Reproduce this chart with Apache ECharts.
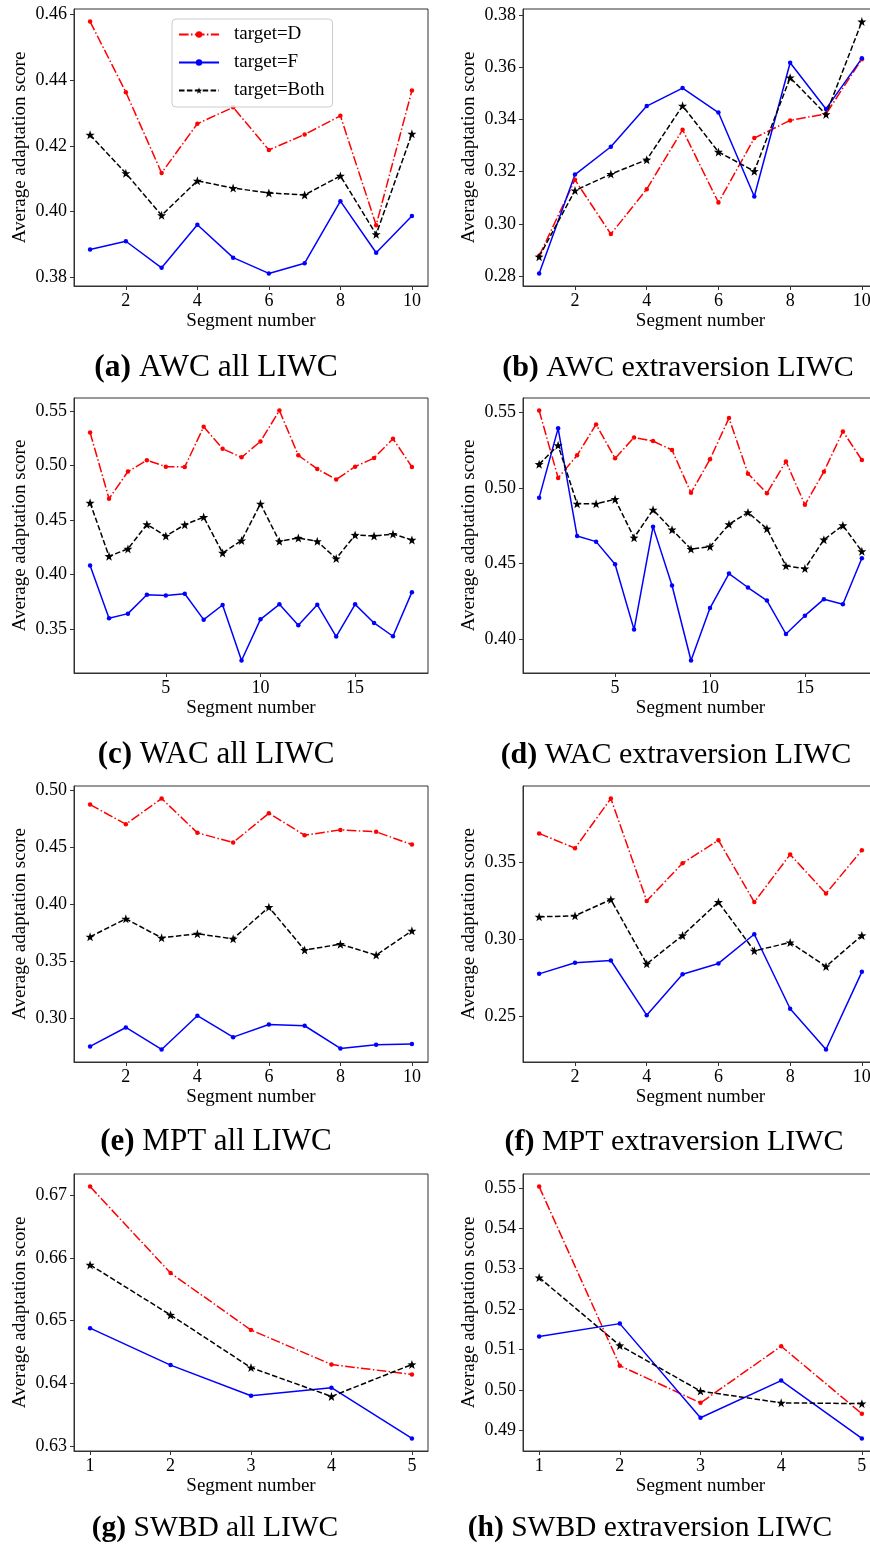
<!DOCTYPE html>
<html>
<head>
<meta charset="utf-8">
<title>Average adaptation score by segment</title>
<script src="https://cdn.jsdelivr.net/npm/echarts@6/dist/echarts.min.js"></script>
<style>
  html, body { margin: 0; padding: 0; background: #fff; overflow: hidden; }
  #chart { width: 870px; height: 1553px; }
</style>
</head>
<body>
<div id="chart"></div>
<script>
// series names (legend)
var seriesNames = ['target=D', 'target=F', 'target=Both'];

// segment numbers
var seg10 = [1, 2, 3, 4, 5, 6, 7, 8, 9, 10];
var seg18 = [1, 2, 3, 4, 5, 6, 7, 8, 9, 10, 11, 12, 13, 14, 15, 16, 17, 18];
var seg5 = [1, 2, 3, 4, 5];

// x tick labels
var xTicks10 = [2, 4, 6, 8, 10];
var xTicks18 = [5, 10, 15];
var xTicks5 = [1, 2, 3, 4, 5];

// (a) AWC all LIWC
var awcAllD = [0.4579, 0.4364, 0.4118, 0.4268, 0.4318, 0.4188, 0.4235, 0.4292, 0.3959, 0.4369];
var awcAllF = [0.3885, 0.3910, 0.3829, 0.3960, 0.3860, 0.3812, 0.3843, 0.4032, 0.3875, 0.3987];
var awcAllBoth = [0.4234, 0.4117, 0.3989, 0.4094, 0.4072, 0.4057, 0.4051, 0.4109, 0.3931, 0.4237];
var awcAllTicks = [0.38, 0.40, 0.42, 0.44, 0.46];

// (b) AWC extraversion LIWC
var awcExtD = [0.2877, 0.3169, 0.2961, 0.3133, 0.3361, 0.3082, 0.3329, 0.3397, 0.3422, 0.3632];
var awcExtF = [0.2810, 0.3189, 0.3296, 0.3452, 0.3521, 0.3427, 0.3105, 0.3618, 0.3441, 0.3635];
var awcExtBoth = [0.2874, 0.3128, 0.3191, 0.3246, 0.3453, 0.3276, 0.3202, 0.3561, 0.3420, 0.3776];
var awcExtTicks = [0.28, 0.30, 0.32, 0.34, 0.36, 0.38];

// (c) WAC all LIWC
var wacAllD = [0.5302, 0.4695, 0.4944, 0.5047, 0.4989, 0.4986, 0.5354, 0.5153, 0.5074, 0.5220,
               0.5503, 0.5093, 0.4968, 0.4871, 0.4989, 0.5068, 0.5245, 0.4986];
var wacAllF = [0.4084, 0.3600, 0.3643, 0.3816, 0.3810, 0.3825, 0.3588, 0.3722, 0.3214, 0.3591,
               0.3728, 0.3536, 0.3725, 0.3433, 0.3728, 0.3558, 0.3436, 0.3840];
var wacAllBoth = [0.4658, 0.4169, 0.4236, 0.4460, 0.4354, 0.4457, 0.4527, 0.4199, 0.4312, 0.4649,
                  0.4305, 0.4336, 0.4305, 0.4147, 0.4363, 0.4354, 0.4372, 0.4318];
var wacAllTicks = [0.35, 0.40, 0.45, 0.50, 0.55];

// (d) WAC extraversion LIWC
var wacExtD = [0.5511, 0.5066, 0.5215, 0.5419, 0.5195, 0.5333, 0.5309, 0.5250, 0.4967, 0.5189,
               0.5461, 0.5094, 0.4965, 0.5175, 0.4888, 0.5107, 0.5373, 0.5184];
var wacExtF = [0.4934, 0.5393, 0.4682, 0.4645, 0.4496, 0.4064, 0.4744, 0.4355, 0.3860, 0.4206,
               0.4434, 0.4342, 0.4256, 0.4035, 0.4156, 0.4265, 0.4232, 0.4535];
var wacExtBoth = [0.5156, 0.5281, 0.4895, 0.4895, 0.4925, 0.4671, 0.4855, 0.4724, 0.4596, 0.4612,
                  0.4759, 0.4838, 0.4730, 0.4485, 0.4467, 0.4658, 0.4752, 0.4581];
var wacExtTicks = [0.40, 0.45, 0.50, 0.55];

// (e) MPT all LIWC
var mptAllD = [0.4871, 0.4699, 0.4924, 0.4623, 0.4538, 0.4795, 0.4602, 0.4649, 0.4632, 0.4520];
var mptAllF = [0.2749, 0.2915, 0.2722, 0.3018, 0.2830, 0.2941, 0.2930, 0.2731, 0.2763, 0.2769];
var mptAllBoth = [0.3711, 0.3868, 0.3702, 0.3737, 0.3693, 0.3971, 0.3594, 0.3646, 0.3550, 0.3763];
var mptAllTicks = [0.30, 0.35, 0.40, 0.45, 0.50];

// (f) MPT extraversion LIWC
var mptExtD = [0.3687, 0.3591, 0.3914, 0.3248, 0.3493, 0.3643, 0.3240, 0.3550, 0.3296, 0.3578];
var mptExtF = [0.2773, 0.2845, 0.2860, 0.2504, 0.2771, 0.2841, 0.3031, 0.2546, 0.2281, 0.2786];
var mptExtBoth = [0.3144, 0.3151, 0.3257, 0.2838, 0.3023, 0.3240, 0.2923, 0.2977, 0.2821, 0.3023];
var mptExtTicks = [0.25, 0.30, 0.35];

// (g) SWBD all LIWC
var swbdAllD = [0.6714, 0.6576, 0.6485, 0.6430, 0.6414];
var swbdAllF = [0.6488, 0.6429, 0.6380, 0.6393, 0.6312];
var swbdAllBoth = [0.6589, 0.6509, 0.6425, 0.6379, 0.6430];
var swbdAllTicks = [0.63, 0.64, 0.65, 0.66, 0.67];

// (h) SWBD extraversion LIWC
var swbdExtD = [0.5503, 0.5060, 0.4968, 0.5108, 0.4941];
var swbdExtF = [0.5132, 0.5164, 0.4931, 0.5023, 0.4880];
var swbdExtBoth = [0.5278, 0.5110, 0.4997, 0.4968, 0.4966];
var swbdExtTicks = [0.49, 0.50, 0.51, 0.52, 0.53, 0.54, 0.55];

var panels = [
  { tag: '(a)', caption: 'AWC all LIWC', seg: seg10, xTicks: xTicks10, yTicks: awcAllTicks, d: awcAllD, f: awcAllF, both: awcAllBoth },
  { tag: '(b)', caption: 'AWC extraversion LIWC', seg: seg10, xTicks: xTicks10, yTicks: awcExtTicks, d: awcExtD, f: awcExtF, both: awcExtBoth },
  { tag: '(c)', caption: 'WAC all LIWC', seg: seg18, xTicks: xTicks18, yTicks: wacAllTicks, d: wacAllD, f: wacAllF, both: wacAllBoth },
  { tag: '(d)', caption: 'WAC extraversion LIWC', seg: seg18, xTicks: xTicks18, yTicks: wacExtTicks, d: wacExtD, f: wacExtF, both: wacExtBoth },
  { tag: '(e)', caption: 'MPT all LIWC', seg: seg10, xTicks: xTicks10, yTicks: mptAllTicks, d: mptAllD, f: mptAllF, both: mptAllBoth },
  { tag: '(f)', caption: 'MPT extraversion LIWC', seg: seg10, xTicks: xTicks10, yTicks: mptExtTicks, d: mptExtD, f: mptExtF, both: mptExtBoth },
  { tag: '(g)', caption: 'SWBD all LIWC', seg: seg5, xTicks: xTicks5, yTicks: swbdAllTicks, d: swbdAllD, f: swbdAllF, both: swbdAllBoth },
  { tag: '(h)', caption: 'SWBD extraversion LIWC', seg: seg5, xTicks: xTicks5, yTicks: swbdExtTicks, d: swbdExtD, f: swbdExtF, both: swbdExtBoth }
];

// layout
var colLeft = [74, 523];
var colWidth = [354, 355];
var rowTop = [9, 398, 786, 1174];
var rowHeight = [277, 275, 276, 277];
var captionX = [216, 678, 216, 676, 216, 674, 215, 650];
var captionSize = [31.5, 30, 31, 30, 31, 30, 29.5, 29.5];
var captionTop = [351, 738, 1125, 1511];

var FONT = "'Liberation Serif', 'DejaVu Serif', serif";
var FRAME = '#333333';
var STAR = 'path://M0,-10 L2.35,-3.24 L9.51,-3.09 L3.8,1.24 L5.88,8.09 L0,4 L-5.88,8.09 L-3.8,1.24 L-9.51,-3.09 L-2.35,-3.24 Z';

// matplotlib style 5% margins
function padRange(arrs) {
  var lo = Infinity, hi = -Infinity;
  arrs.forEach(function (a) {
    a.forEach(function (v) { if (v < lo) lo = v; if (v > hi) hi = v; });
  });
  var m = (hi - lo) * 0.05;
  return [lo - m, hi + m];
}

function pairs(seg, vals) {
  return seg.map(function (s, i) { return [s, vals[i]]; });
}

var grids = [], xAxes = [], yAxes = [], series = [], titles = [];

panels.forEach(function (p, i) {
  var col = i % 2, row = Math.floor(i / 2);
  grids.push({
    left: colLeft[col], top: rowTop[row], width: colWidth[col], height: rowHeight[row],
    show: true, borderColor: FRAME, borderWidth: 1, backgroundColor: 'transparent',
    containLabel: false, outerBoundsMode: 'none'
  });

  var xr = padRange([p.seg]);
  xAxes.push({
    type: 'value', gridIndex: i, min: xr[0], max: xr[1],
    name: 'Segment number', nameLocation: 'middle', nameGap: 26,
    nameTextStyle: { fontFamily: FONT, fontSize: 19, color: '#000' },
    axisLine: { show: true, onZero: false, lineStyle: { color: FRAME, width: 1 } },
    axisTick: { show: true, inside: false, length: 4, customValues: p.xTicks, lineStyle: { color: FRAME } },
    axisLabel: { customValues: p.xTicks, fontFamily: FONT, fontSize: 18, color: '#000', margin: 6 },
    splitLine: { show: false }
  });

  var yr = padRange([p.d, p.f, p.both]);
  yAxes.push({
    type: 'value', gridIndex: i, min: yr[0], max: yr[1],
    name: 'Average adaptation score', nameLocation: 'middle', nameGap: 44,
    nameTextStyle: { fontFamily: FONT, fontSize: 19, color: '#000' },
    axisLine: { show: true, onZero: false, lineStyle: { color: FRAME, width: 1 } },
    axisTick: { show: true, inside: false, length: 4, customValues: p.yTicks, lineStyle: { color: FRAME } },
    axisLabel: {
      customValues: p.yTicks, fontFamily: FONT, fontSize: 18, color: '#000', margin: 7,
      formatter: function (v) { return v.toFixed(2); }
    },
    splitLine: { show: false }
  });

  series.push({
    name: seriesNames[0], type: 'line', xAxisIndex: i, yAxisIndex: i,
    data: pairs(p.seg, p.d), symbol: 'circle', symbolSize: 4.5, showSymbol: true,
    itemStyle: { color: '#ff0000' },
    lineStyle: { color: '#ff0000', width: 1.5, type: [9.6, 2.4, 1.5, 2.4] }
  });
  series.push({
    name: seriesNames[1], type: 'line', xAxisIndex: i, yAxisIndex: i,
    data: pairs(p.seg, p.f), symbol: 'circle', symbolSize: 4.5, showSymbol: true,
    itemStyle: { color: '#0000ff' },
    lineStyle: { color: '#0000ff', width: 1.5, type: 'solid' }
  });
  series.push({
    name: seriesNames[2], type: 'line', xAxisIndex: i, yAxisIndex: i,
    data: pairs(p.seg, p.both), symbol: STAR, symbolSize: 9, showSymbol: true,
    itemStyle: { color: '#000000' },
    lineStyle: { color: '#000000', width: 1.5, type: [5.5, 2.4] }
  });

  titles.push({
    text: '{b|' + p.tag + '} ' + p.caption,
    left: captionX[i], top: captionTop[row], textAlign: 'center', padding: 0,
    textStyle: {
      fontFamily: FONT, fontSize: captionSize[i], fontWeight: 'normal', color: '#000', lineHeight: 34,
      rich: { b: { fontFamily: FONT, fontSize: captionSize[i], fontWeight: 'bold', color: '#000', lineHeight: 34 } }
    }
  });
});

var myChart = echarts.init(document.getElementById('chart'));
var option = {
  animation: false,
  backgroundColor: '#ffffff',
  title: titles,
  legend: {
    data: seriesNames, orient: 'vertical', left: 172, top: 19,
    padding: [6, 8, 7, 6], itemWidth: 40, itemHeight: 8, itemGap: 9,
    selectedMode: false,
    backgroundColor: 'rgba(255,255,255,0.8)', borderColor: '#cccccc', borderWidth: 1, borderRadius: 4,
    textStyle: { fontFamily: FONT, fontSize: 19, color: '#000', padding: [0, 0, 0, 10] }
  },
  grid: grids,
  xAxis: xAxes,
  yAxis: yAxes,
  series: series
};
myChart.setOption(option);
window.addEventListener('resize', function () { myChart.resize(); });
</script>
</body>
</html>
